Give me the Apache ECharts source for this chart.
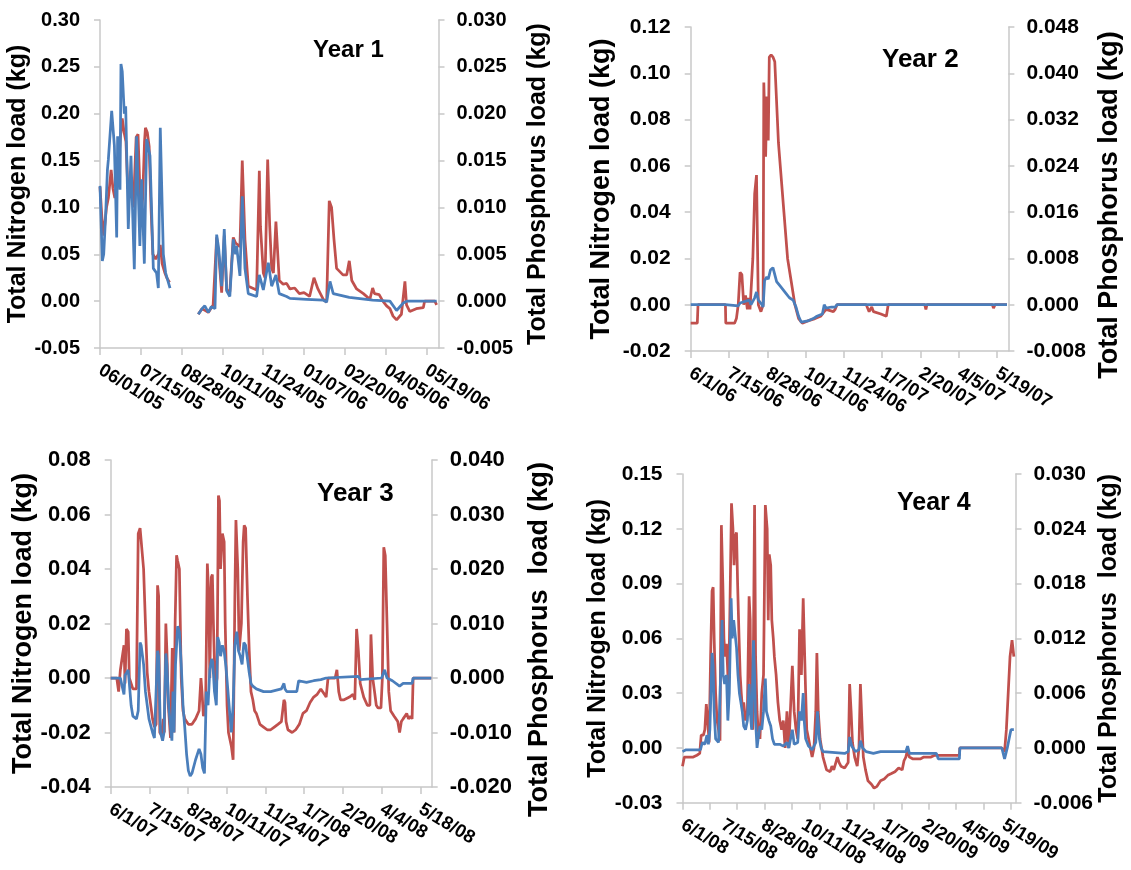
<!DOCTYPE html>
<html>
<head>
<meta charset="utf-8">
<script src="https://cdn.jsdelivr.net/npm/echarts@6/dist/echarts.min.js"></script>
<style>
html,body{margin:0;padding:0;background:#fff;}
#chart{width:1131px;height:870px;}
</style>
</head>
<body>
<div id="chart"></div>
<script>
// ---- tick labels (dates) ----
const y1Dates = ['06/01/05','07/15/05','08/28/05','10/11/05','11/24/05','01/07/06','02/20/06','04/05/06','05/19/06'];
const y2Dates = ['6/1/06','7/15/06','8/28/06','10/11/06','11/24/06','1/7/07','2/20/07','4/5/07','5/19/07'];
const y3Dates = ['6/1/07','7/15/07','8/28/07','10/11/07','11/24/07','1/7/08','2/20/08','4/4/08','5/18/08'];
const y4Dates = ['6/1/08','7/15/08','8/28/08','10/11/08','11/24/08','1/7/09','2/20/09','4/5/09','5/19/09'];

// ---- series: [day since June 1, load kg] ----
const y1TN = [[0,0.122],[2,0.09],[4,0.07],[7,0.10],[9,0.11],[12,0.14],[14,0.12],[16,0.11],[19,0.13],[22,0.175],[24,0.195],[26,0.18],[28,0.17],[30,0.12],[33,0.13],[36,0.10],[39,0.175],[41,0.178],[43,0.12],[44,0.09],[46,0.11],[48,0.17],[49,0.185],[51,0.18],[53,0.165],[55,0.10],[57,0.05],[60,0.045],[63,0.05],[65,0.06],[67,0.04],[70,0.03],[72,0.025],[75,0.02],
[90,null],
[106,-0.014],[110,-0.008],[116.8,-0.012],[122,-0.004],[125.8,0.068],[128,0.05],[131.2,0.009],[134,0.07],[136.6,0.012],[140,0.01],[143.7,0.068],[146.2,0.062],[147.3,0.062],[150.9,0.058],[153.4,0.150],[156.3,0.066],[159.9,0.016],[168.9,0.012],[171.8,0.139],[173,0.08],[176.1,0.03],[178,0.025],[180.8,0.151],[183,0.08],[185.1,0.035],[187,0.03],[189.7,0.085],[193.3,0.022],[197.5,0.018],[201.2,0.019],[204.8,0.013],[210,0.014],[215,0.008],[220,0.009],[226,0.005],[230.7,0.025],[235,0.013],[240.8,0.002],[244.4,-0.001],[247.2,0.107],[249.7,0.10],[252.3,0.066],[255.1,0.035],[257,0.035],[262,0.028],[266,0.028],[268.8,0.043],[271.5,0.022],[276.7,0.013],[284,0.008],[291,0.002],[294,0.014],[296,0.008],[301,0.007],[305,0.0],[309,-0.005],[312.6,-0.008],[316,-0.016],[319.8,-0.020],[325,-0.014],[328.8,0.021],[330.5,-0.004],[334,-0.011],[341,-0.008],[348.6,-0.007],[350,0],[361,0],[363,-0.004]];

const y1TP = [[0,0.0123],[2.5,0.0043],[4,0.005],[6,0.009],[8,0.014],[9,0.0151],[12.6,0.0203],[15.5,0.0166],[18,0.0068],[19,0.0176],[21.6,0.0119],[22.6,0.0253],[24,0.0245],[26.2,0.020],[27.7,0.0208],[30.5,0.0077],[33.4,0.0155],[37,0.0034],[39.5,0.0176],[43,0.0059],[44.9,0.013],[47.8,0.004],[50.3,0.0173],[53.9,0.0155],[57.5,0.0035],[61,0.003],[62.9,0.0014],[65,0.0185],[68.3,0.005],[70.8,0.003],[75.5,0.0014],
[90,null],
[106,-0.0014],[108,-0.0012],[110,-0.0008],[113,-0.0005],[116.8,-0.0012],[120,-0.0006],[122,-0.0004],[124,-0.0008],[125.8,0.0071],[128,0.0056],[131.2,0.0016],[134,0.0077],[136.6,0.0011],[140,0.0005],[143.7,0.0066],[146.2,0.005],[147.3,0.0059],[150.9,0.0027],[153.4,0.0112],[156.3,0.0035],[159.9,0.0008],[168.9,0.0005],[171.8,0.0028],[176.1,0.0012],[181.5,0.0041],[185.1,0.0016],[189.7,0.0028],[193.3,0.0008],[201.2,0.0005],[204.8,0.0003],[222.8,0.0002],[240.8,0.0001],[244.4,-0.0001],[248,0.0021],[251.5,0.0008],[268.8,0.0004],[294,0.0001],[312.6,0.0],[319.8,-0.001],[327,-0.0002],[331,0],[348,0],[363,0]];

const y2TN = [[0,-0.008],[7.6,-0.008],[8.4,0],[39.9,0],[40.3,-0.008],[50.4,-0.008],[52.5,-0.006],[54.6,0],[56.7,0.014],[58.8,0.013],[60.9,0],[63,0.004],[65.1,-0.002],[66.4,0.003],[68.1,-0.002],[71.4,0.020],[73.5,0.048],[75.6,0.056],[77.7,0],[80.7,-0.003],[83.2,0],[84,0.096],[86.1,0.064],[87.4,0.09],[89.1,0.071],[90.3,0.107],[92.4,0.108],[94.5,0.107],[96.6,0.105],[100.8,0.07],[102.9,0.06],[107.1,0.04],[111.3,0.02],[115.5,0.01],[119.7,0],[124,-0.006],[128.2,-0.008],[134.5,-0.007],[142.9,-0.006],[149.2,-0.005],[153.4,-0.003],[155.5,-0.002],[163.9,-0.003],[166,-0.002],[168.1,0],[201.7,0],[205,-0.003],[208,-0.001],[210,-0.003],[218.5,-0.004],[224.8,-0.005],[226.9,0],[268.9,0],[270.2,-0.002],[271.4,0],[346.6,0],[347.9,-0.0015],[349.6,0],[363.4,0]];

const y2TP = [[0,0],[39.9,0],[42,-0.0002],[54.6,-0.0002],[56.7,0.0003],[58.8,0.0004],[67.2,0.0008],[69.3,0],[73.5,0.0012],[75.6,0.0022],[77.7,0.0008],[81.9,0],[83.2,-0.0004],[84.9,0.0042],[87.4,0.0048],[89.1,0.0044],[91.6,0.006],[94.5,0.0064],[96.6,0.0064],[98.7,0.004],[102.9,0.0032],[109.2,0.002],[113.4,0.0012],[117.6,0.0008],[121,-0.0004],[124,-0.002],[126.9,-0.003],[134.5,-0.0028],[140.8,-0.0024],[145,-0.002],[151.3,-0.0016],[153.4,0],[155.5,-0.0006],[161.8,-0.0004],[166,-0.0004],[168.1,0],[363.4,0]];

const y3TN = [[0,0],[6.9,0],[9,-0.005],[11,0.003],[13,0.003],[15.1,0.012],[16.3,-0.002],[17.9,0.018],[19.9,0.017],[21.2,0],[23.2,-0.002],[25.2,-0.004],[29.3,-0.004],[31.3,0.053],[33.4,0.055],[35.4,0.055],[37.4,0.04],[39.5,0.02],[41.5,0.002],[43.5,-0.005],[47.6,-0.015],[49.7,-0.018],[51.7,-0.017],[53.3,0.034],[54.5,0.03],[55.8,-0.02],[57.8,-0.021],[59.8,-0.015],[61,-0.02],[62.7,0.02],[63.9,0.01],[65.5,-0.01],[68,-0.022],[70,0.011],[71.2,-0.01],[72,-0.02],[73.3,0.021],[74.9,0.045],[76.1,0.043],[78.1,0.04],[80.2,0],[82.2,-0.012],[84.2,-0.015],[88.3,-0.017],[92.4,-0.017],[96.5,-0.015],[100.5,-0.012],[102.6,0],[103.8,-0.005],[105.4,-0.014],[107.9,-0.01],[109.9,0.042],[111.5,0.03],[112.7,0],[114.4,0.037],[115.6,0.038],[116.8,0.02],[118.8,-0.005],[120.9,0],[122.5,0.067],[123.7,0.065],[124.9,0.04],[127,0.053],[129,0.05],[130.2,0.02],[132.3,-0.01],[133.9,-0.02],[137.2,-0.025],[139.2,-0.03],[141.2,0.03],[142.4,0.058],[144.5,0.04],[146.1,0.01],[147.3,0.01],[148.6,0.02],[150.6,0.05],[151.8,0.056],[153.4,0.055],[155.5,0.03],[157.5,0.01],[159.5,-0.005],[161.6,-0.008],[163.6,-0.012],[165.6,-0.013],[169.7,-0.017],[173.8,-0.018],[177.9,-0.019],[181.9,-0.019],[186,-0.018],[190.1,-0.017],[194.1,-0.016],[197,-0.008],[198.2,-0.009],[199.4,-0.016],[201.5,-0.019],[206.3,-0.02],[210.4,-0.019],[214.5,-0.017],[218.6,-0.013],[222.6,-0.012],[226.7,-0.009],[230.8,-0.007],[234.8,-0.006],[238.9,-0.004],[243,-0.006],[245,-0.007],[247.1,0],[255.2,0],[257.2,0.003],[259.3,-0.005],[261.3,-0.008],[265.4,-0.008],[271.5,-0.007],[275.5,-0.006],[277.6,-0.008],[279.6,0.018],[281.6,0.01],[283.7,-0.002],[287.7,-0.007],[291.8,-0.01],[294.7,-0.01],[295.9,0.016],[297.9,0],[300,-0.005],[302,-0.01],[304,-0.011],[307.3,-0.011],[308.9,0],[310.5,0.048],[312.2,0.045],[314.2,0.02],[316.2,-0.005],[318.3,-0.012],[322.3,-0.014],[326.4,-0.016],[328.5,-0.02],[330.5,-0.016],[332.5,-0.015],[336.6,-0.013],[338.6,-0.015],[340.7,-0.014],[342.7,-0.015],[343.9,0],[364.5,0]];

const y3TP = [[0,0],[11,0],[13,-0.0015],[15.1,-0.003],[16.3,0.0005],[18.3,0.001],[19.9,0.0015],[21.2,-0.001],[23.2,-0.005],[25.2,-0.007],[29.3,-0.0075],[31.3,-0.006],[33.4,0.0065],[34.6,0.006],[37.4,0.0025],[39.5,-0.0025],[43.5,-0.0075],[47.6,-0.01],[49.7,-0.011],[51.7,-0.011],[53.3,0.005],[54.5,0.004],[56.6,-0.01],[59,-0.0115],[60.6,-0.01],[62.7,0.0045],[63.9,0.0025],[65.9,-0.005],[68,-0.009],[69.6,-0.0115],[70.8,-0.0025],[72,-0.01],[73.7,0.0025],[76.1,0.0095],[78.1,0.0085],[80.2,0.0025],[82.2,-0.005],[84.2,-0.009],[86.3,-0.014],[88.3,-0.017],[90.4,-0.018],[92.4,-0.0175],[96.5,-0.015],[100.5,-0.013],[102.6,-0.014],[104.6,-0.0165],[106.6,-0.0175],[107.9,-0.0175],[108.7,-0.0025],[110.7,-0.005],[112.7,0.0015],[114.8,0.0035],[116,0.003],[118,-0.0025],[120.1,-0.005],[121.7,0.0075],[123.3,0.0065],[124.9,0.004],[127,0.006],[129,0.005],[131.1,0.002],[133.1,-0.002],[135.1,-0.006],[137.2,-0.01],[139.2,-0.005],[141.2,0.006],[143.3,0.0085],[145.3,0.005],[147.3,0.004],[149.4,0.0025],[151.4,0.0065],[153.4,0.006],[155.5,0.0035],[157.5,0.001],[159.5,-0.001],[161.6,-0.0015],[165.6,-0.002],[173.8,-0.0025],[181.9,-0.0025],[194.1,-0.002],[197,-0.001],[198.2,-0.002],[200.2,-0.0025],[211.6,-0.0025],[213.7,-0.0005],[222.6,-0.0008],[230.8,-0.0005],[238.9,-0.0003],[245,0],[281.6,0.0003],[283.7,-0.0003],[308.1,0],[311.4,0.0015],[314.2,0],[320.3,-0.0005],[328.5,-0.0015],[332.5,-0.001],[342.7,-0.001],[343.9,0],[364.5,0]];

const y4TN = [[0,-0.01],[2,-0.005],[3.9,-0.005],[7.9,-0.005],[11.8,-0.005],[15.8,-0.004],[18.9,-0.003],[20.5,0.007],[22.9,0.007],[24.5,0.01],[26.1,0.024],[27.6,0.015],[29.2,0.003],[30.8,0.05],[32.4,0.086],[33.6,0.088],[34.7,0.06],[36.3,0.03],[37.9,0.015],[39.5,0.01],[41.1,0.004],[42.6,0.122],[44.2,0.09],[45.4,0.06],[46.6,0.05],[48.2,0.057],[49.3,0.045],[50.5,0.03],[52.1,0.08],[53.7,0.134],[55.3,0.12],[56.5,0.10],[57.6,0.115],[59.2,0.118],[60.4,0.09],[62,0.06],[63.2,0.04],[64.4,0.03],[65.9,0.02],[67.1,0.025],[69.1,0.015],[71.1,0.02],[73,0.083],[74.2,0.07],[75,0.02],[77,0.01],[79,0.133],[80.1,0.05],[81.7,0.02],[82.9,0.01],[84.9,0.005],[86.9,0.03],[88.8,0.04],[90.8,0.133],[92.8,0.12],[94,0.07],[95.1,0.106],[96.7,0.1],[97.9,0.07],[99.5,0.06],[100.7,0.05],[102.6,0.04],[104.6,0.025],[106.6,0.015],[108.6,0.01],[110.5,0.015],[112.5,0],[114.5,0.02],[116.5,0],[118.4,0],[120.4,0.045],[122.4,0.02],[124.4,0.01],[126.3,0.005],[128.3,0.065],[130.3,0.04],[132.3,0.082],[133.4,0.06],[135,0.03],[136.2,0.01],[138.2,0.005],[140.1,0],[142.1,-0.005],[144.1,0],[146.1,0.02],[147.3,0.052],[148.8,0.02],[150.8,0.005],[154,-0.005],[157.9,-0.012],[161.9,-0.013],[163.8,-0.01],[165.8,-0.012],[169.8,-0.005],[171.7,-0.008],[173.7,-0.01],[177.7,-0.011],[181.6,-0.008],[183.2,0.035],[184.8,0.02],[186.3,0.003],[188.7,-0.005],[191.5,-0.01],[193.4,0],[195,0.035],[196.6,0.015],[198.2,-0.005],[200.6,-0.012],[203.3,-0.018],[207.3,-0.02],[210,-0.022],[213.2,-0.021],[217.1,-0.018],[221.1,-0.017],[225,-0.015],[229,-0.014],[232.9,-0.013],[236.9,-0.011],[240.8,-0.012],[242.8,-0.007],[244.8,-0.005],[246.7,-0.001],[248.7,-0.005],[252.7,-0.006],[256.6,-0.006],[260.6,-0.006],[264.5,-0.005],[268.5,-0.005],[272.4,-0.005],[276.4,-0.004],[280.3,-0.004],[284.3,-0.004],[303.5,-0.004],[304,0],[350,0],[353,-0.002],[355,0.01],[357,0.03],[359,0.05],[361.2,0.059],[363.2,0.05]];

const y4TP = [[0,-0.0004],[3.9,-0.0002],[19.7,-0.0002],[21.7,0.0006],[24.5,0.0004],[26.8,0.0014],[28.4,0.0004],[30,0.002],[32.4,0.0104],[33.6,0.009],[34.7,0.004],[36.3,0.001],[39.5,0.0006],[41.8,0.008],[43.4,0.014],[44.6,0.008],[46.2,0.007],[48.2,0.008],[49.7,0.003],[51.3,0.006],[53.3,0.0164],[54.5,0.012],[56.1,0.014],[57.6,0.014],[59.2,0.011],[60.8,0.008],[62.4,0.006],[64,0.005],[65.5,0.004],[67.1,0.0024],[69.1,0.002],[71.1,0.003],[73,0.007],[74.2,0.004],[75.8,0.002],[77.8,0.0118],[79,0.008],[80.1,0.003],[81.7,0],[82.9,0.001],[84.9,0.0024],[86.9,0.002],[88.8,0.004],[90.8,0.0076],[92,0.004],[93.6,0.004],[94.7,0.003],[96.7,0.0024],[98.7,0.001],[100.7,0.0004],[102.6,0.0002],[106.6,0.0004],[110.5,0.0002],[114.5,0.0006],[116.5,0],[118.4,0.0002],[120.4,0.002],[122.4,0.0004],[124.4,0.0002],[126.3,0.0006],[128.3,0.004],[130.3,0.003],[132.3,0.006],[133.4,0.003],[135,0.001],[138.2,0.0002],[142.1,-0.0002],[146.1,0.0006],[148,0.004],[150,0.001],[152,0],[154,-0.0004],[177.7,-0.0006],[181.6,-0.0004],[183.2,0.0012],[185.5,0.0002],[189.5,-0.0004],[193.4,-0.0002],[195,0.0008],[197.4,0],[201.3,-0.0004],[209.2,-0.0006],[217.1,-0.0004],[244.8,-0.0004],[246.7,0.0002],[248.7,-0.0006],[278.3,-0.0006],[280.3,-0.0012],[303.5,-0.0012],[304,0],[350,0],[353,-0.0012],[354.5,-0.0006],[356,0],[358,0.001],[360,0.002],[362,0.0022],[363.2,0.002]];

// ---- styling ----
const FONT = "'Liberation Sans', Arial, sans-serif";
const RED = '#c0504d';
const BLUE = '#4a7ebb';
const AX = '#c8c8c8';

const grids = [
  {left:100,   top:20,  width:338.5, height:328},
  {left:690.7, top:27,  width:317.7, height:324},
  {left:110.7, top:460, width:321,   height:327},
  {left:682.5, top:474, width:333,   height:330}
];

const panels = [
  {dates:y1Dates, tickStep:44, tn:y1TN, tp:y1TP, l:[-0.05,0.30,0.05], r:[-0.005,0.030,0.005], title:'Year 1', tpos:[313,38], tfs:24,
   lname:'Total Nitrogen load (kg)', rname:'Total Phosphorus load (kg)', lgap:66, rgap:87, fs:20, nfs:25, rshift:0},
  {dates:y2Dates, tickStep:44, tn:y2TN, tp:y2TP, l:[-0.02,0.12,0.02], r:[-0.008,0.048,0.008], title:'Year 2', tpos:[882,47], tfs:26,
   lname:'Total Nitrogen load (kg)', rname:'Total Phosphorus load (kg)', lgap:76, rgap:88, fs:21, nfs:27, rshift:32},
  {dates:y3Dates, tickStep:44, tn:y3TN, tp:y3TP, l:[-0.04,0.08,0.02], r:[-0.02,0.04,0.01], title:'Year 3', tpos:[317,481], tfs:26,
   lname:'Total Nitrogen load (kg)', rname:'Total Phosphorus  load (kg)', lgap:74, rgap:94, fs:22, nfs:27, rshift:32},
  {dates:y4Dates, tickStep:30, tn:y4TN, tp:y4TP, l:[-0.03,0.15,0.03], r:[-0.006,0.030,0.006], title:'Year 4', tpos:[897,491], tfs:25,
   lname:'Total Nitrogen load (kg)', rname:'Total Phosphorus  load (kg)', lgap:70, rgap:81, fs:21, nfs:25, rshift:0}
];

const fmt = (d) => (v) => (Math.abs(v) < 1e-9 ? 0 : v).toFixed(d);

const xAxes = [], yAxes = [], series = [], titles = [];
panels.forEach((p, g) => {
  const labelVals = p.dates.map((_, i) => i * 44);
  const tickVals = [];
  for (let t = 0; t <= 360; t += p.tickStep) tickVals.push(t);
  xAxes.push({
    type:'value', gridIndex:g, min:0, max:365,
    axisLine:{show:true, onZero:false, lineStyle:{color:AX, width:1.5}},
    axisTick:{show:true, length:7, lineStyle:{color:AX, width:1.5}, customValues:tickVals},
    axisLabel:{show:true, customValues:labelVals, formatter:(v) => p.dates[Math.round(v/44)],
      showMinLabel:true, showMaxLabel:true, hideOverlap:false,
      rotate:-31, margin:21, fontSize:18.5, fontWeight:'bold', color:'#000', fontFamily:FONT},
    splitLine:{show:false}
  });
  const common = {
    type:'value', gridIndex:g, nameLocation:'middle', nameRotate:90,
    axisLine:{show:true, lineStyle:{color:AX, width:1.5}},
    axisTick:{show:true, length:6, lineStyle:{color:AX, width:1.5}},
    splitLine:{show:false}
  };
  yAxes.push(Object.assign({}, common, {
    position:'left', min:p.l[0], max:p.l[1], interval:p.l[2], name:p.lname, nameGap:p.lgap,
    nameTextStyle:{fontSize:p.nfs, fontWeight:'bold', color:'#000', fontFamily:FONT},
    axisLabel:{formatter:fmt(2), fontSize:p.fs, fontWeight:'bold', color:'#000', fontFamily:FONT, margin:20}
  }));
  yAxes.push(Object.assign({}, common, {
    position:'right', min:p.r[0], max:p.r[1], interval:p.r[2], name:p.rname, nameGap:p.rgap,
    nameTextStyle:{fontSize:p.nfs, fontWeight:'bold', color:'#000', fontFamily:FONT, padding:[0, p.rshift, 0, 0]},
    axisLabel:{formatter:fmt(3), fontSize:p.fs, fontWeight:'bold', color:'#000', fontFamily:FONT, margin:18}
  }));
  series.push({type:'line', xAxisIndex:g, yAxisIndex:2*g, data:p.tn, showSymbol:false, symbol:'none',
    lineStyle:{color:RED, width:2.75}, itemStyle:{color:RED}, connectNulls:false, z:2});
  series.push({type:'line', xAxisIndex:g, yAxisIndex:2*g+1, data:p.tp, showSymbol:false, symbol:'none',
    lineStyle:{color:BLUE, width:2.75}, itemStyle:{color:BLUE}, connectNulls:false, z:3});
  titles.push({text:p.title, left:p.tpos[0], top:p.tpos[1], padding:0,
    textStyle:{fontSize:p.tfs, fontWeight:'bold', color:'#000', fontFamily:FONT}});
});

const chart = echarts.init(document.getElementById('chart'), null, {renderer:'canvas'});
chart.setOption({
  backgroundColor:'#fff',
  animation:false,
  title:titles,
  grid:grids,
  xAxis:xAxes,
  yAxis:yAxes,
  series:series
});
</script>
</body>
</html>
